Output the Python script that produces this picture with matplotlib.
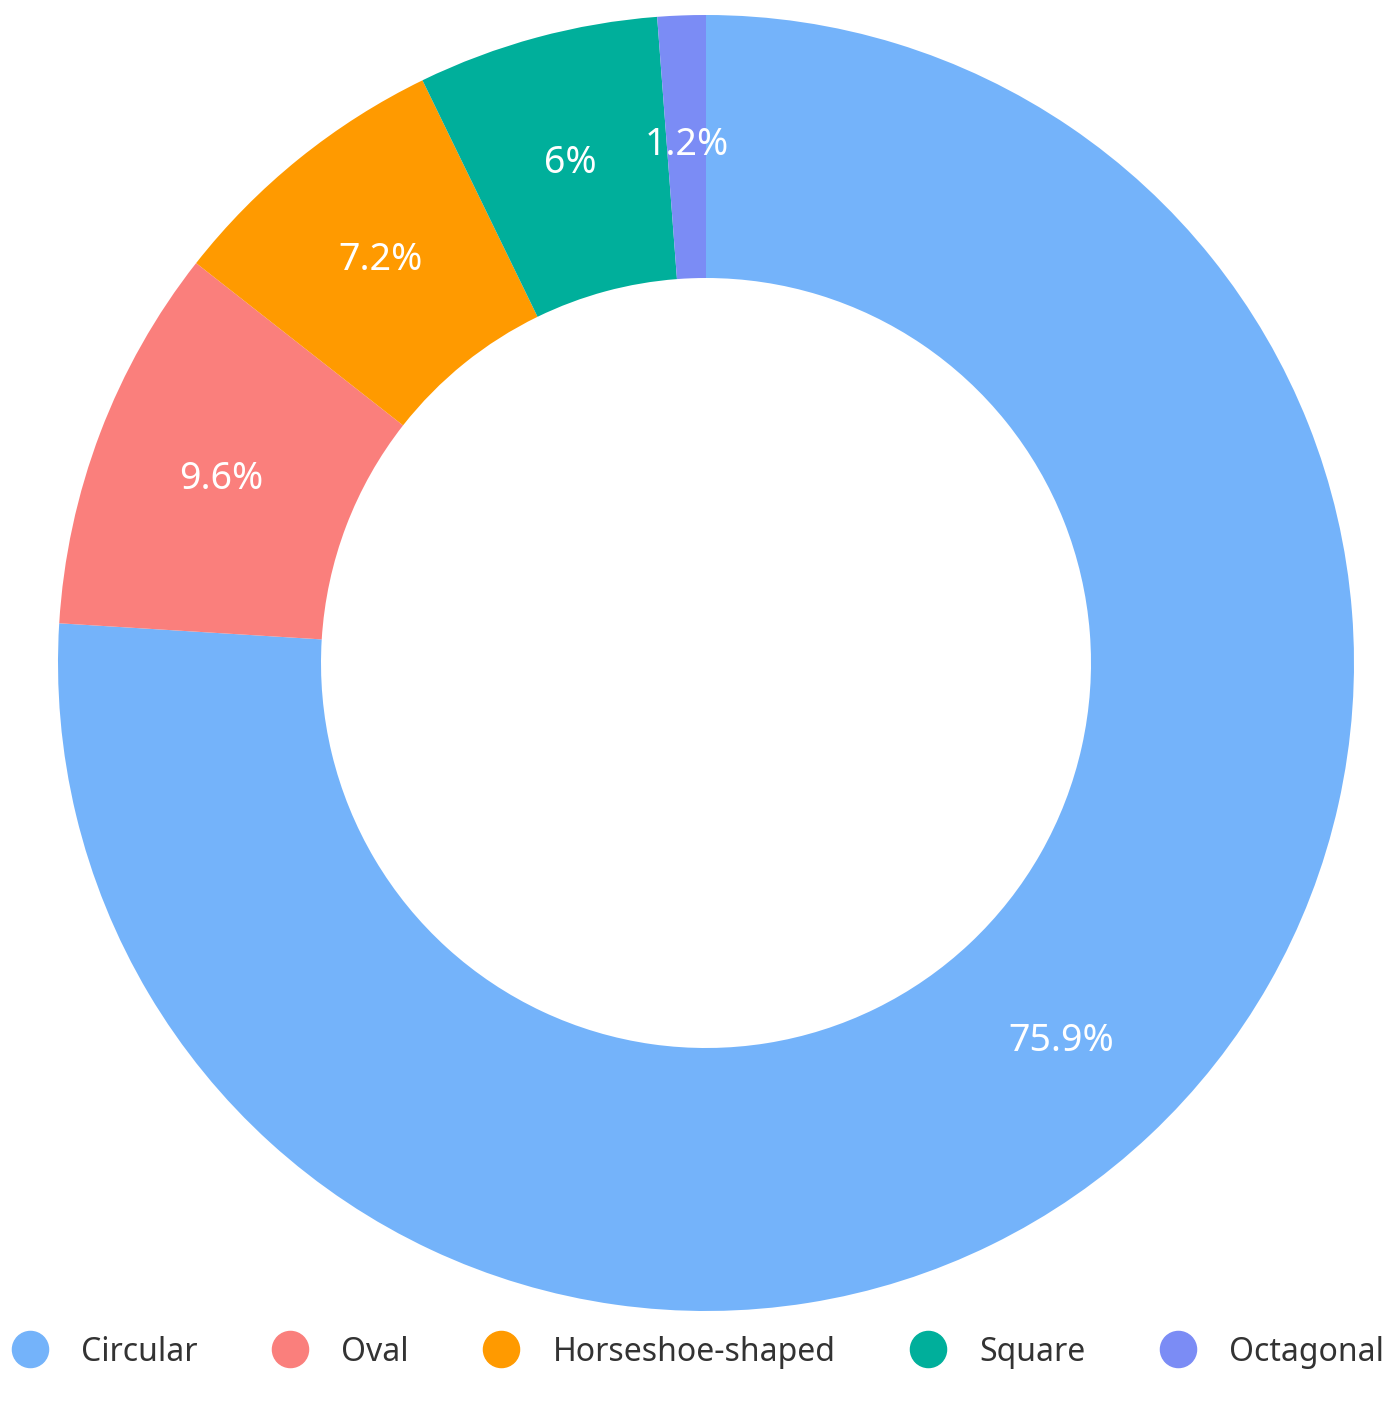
import matplotlib
matplotlib.use("Agg")
import matplotlib.pyplot as plt
from matplotlib.lines import Line2D

# ---------------------------------------------------------------------------
# Data
# ---------------------------------------------------------------------------
categories = ["Circular", "Oval", "Horseshoe-shaped", "Square", "Octagonal"]
shares     = [75.9, 9.6, 7.2, 6.0, 1.2]
pct_labels = ["75.9%", "9.6%", "7.2%", "6%", "1.2%"]
colors     = ["#74B3FA", "#FA7F7C", "#FF9A00", "#00AF9B", "#7B8CF5"]

# ---------------------------------------------------------------------------
# Figure
# ---------------------------------------------------------------------------
plt.rcParams["font.family"] = ["Noto Sans", "DejaVu Sans"]
fig = plt.figure(figsize=(13.82, 14.04), dpi=100)
ax = fig.add_axes([0, 0, 1, 1])
ax.set_xlim(0, 1382)
ax.set_ylim(0, 1404)
ax.axis("off")

wedges, texts = ax.pie(
    shares, colors=colors, labels=pct_labels, labeldistance=0.8,
    startangle=90, counterclock=False, center=(706, 741), radius=648,
    wedgeprops=dict(width=648 - 385, linewidth=0),
    textprops=dict(color="white", fontsize=27), frame=True,
)
for t in texts:
    t.set_ha("center")
    t.set_va("center")
ax.set_xlim(0, 1382)
ax.set_ylim(0, 1404)
ax.set_aspect("equal")
ax.axis("off")

handles = [Line2D([0], [0], marker="o", linestyle="", markersize=26,
                  markerfacecolor=c, markeredgecolor=c) for c in colors]
fig.legend(handles, categories, loc="center", bbox_to_anchor=(0.5, 0.037),
           ncol=5, frameon=False, fontsize=23, handletextpad=0.6,
           columnspacing=1.9, labelcolor="#333333")

fig.savefig("out.png", dpi=100)
